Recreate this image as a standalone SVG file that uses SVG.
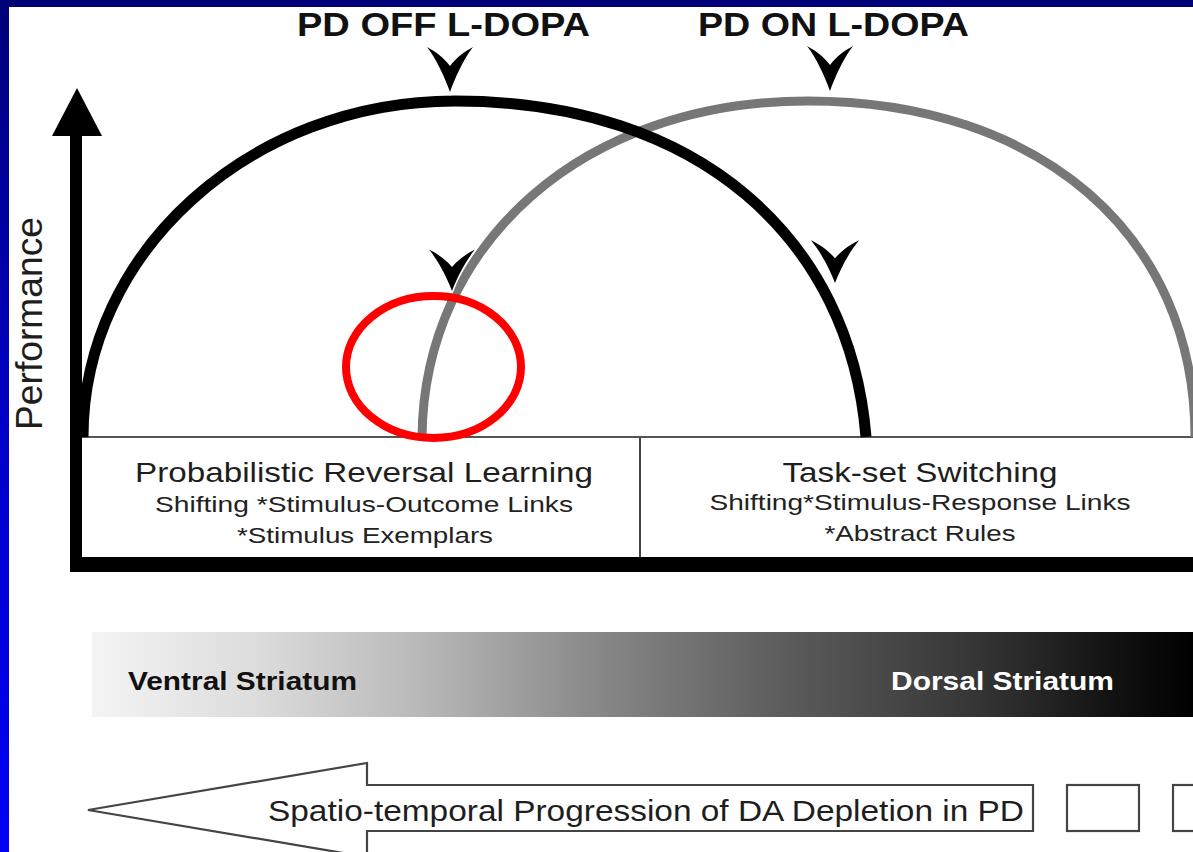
<svg xmlns="http://www.w3.org/2000/svg" xmlns:xlink="http://www.w3.org/1999/xlink" width="1193" height="852" viewBox="0 0 1193 852">
  <defs>
    <linearGradient id="frame" x1="0" y1="0" x2="0" y2="1">
      <stop offset="0" stop-color="#000078"/>
      <stop offset="0.5" stop-color="#0000c8"/>
      <stop offset="1" stop-color="#0000f5"/>
    </linearGradient>
    <linearGradient id="striatum" x1="0" y1="0" x2="1" y2="0">
      <stop offset="0" stop-color="#f4f4f4"/>
      <stop offset="0.15" stop-color="#dcdcdc"/>
      <stop offset="0.3" stop-color="#b8b8b8"/>
      <stop offset="0.47" stop-color="#858585"/>
      <stop offset="0.62" stop-color="#5e5e5e"/>
      <stop offset="0.8" stop-color="#363636"/>
      <stop offset="0.92" stop-color="#141414"/>
      <stop offset="1" stop-color="#000"/>
    </linearGradient>
    <path id="ah" d="M0,0 C-5,-14 -13,-32 -23,-45 C-14,-40 -7,-35 0,-26 C7,-35 14,-40 23,-45 C13,-32 5,-14 0,0 Z"/>
    <style>
      text { font-family: "Liberation Sans", Arial, sans-serif; }
      .title { font-size: 33px; font-weight: bold; fill: #111; }
      .head { font-size: 28px; fill: #1e1e1e; }
      .sub { font-size: 22px; fill: #222; }
      .band { font-size: 25px; font-weight: bold; }
      .arc { fill: none; stroke-linecap: butt; }
      .tip { fill: #000; stroke: #fff; stroke-width: 3; paint-order: stroke; }
      .thin { fill: #fff; stroke: #444; stroke-width: 2.2; }
    </style>
  </defs>

  <rect x="0" y="0" width="1193" height="852" fill="url(#frame)"/>
  <rect x="9" y="7" width="1184" height="845" fill="#fff"/>

  <g id="performance-axis">
    <rect x="70" y="134" width="12" height="438" fill="#000"/>
    <polygon points="77,88 102,136 52,136" fill="#000"/>
    <text transform="translate(42,430) rotate(-90)" font-size="36" fill="#1e1e1e" textLength="213" lengthAdjust="spacingAndGlyphs">Performance</text>
  </g>

  <g id="task-boxes">
    <line x1="82" y1="437" x2="1193" y2="437" stroke="#555" stroke-width="2"/>
    <line x1="640" y1="437" x2="640" y2="558" stroke="#444" stroke-width="2"/>
    <rect x="70" y="557" width="1123" height="15" fill="#000"/>
  </g>

  <g id="box-reversal">
    <text class="head" x="364" y="482" text-anchor="middle" textLength="458" lengthAdjust="spacingAndGlyphs">Probabilistic Reversal Learning</text>
    <text class="sub" x="364" y="512" text-anchor="middle" textLength="418" lengthAdjust="spacingAndGlyphs">Shifting *Stimulus-Outcome Links</text>
    <text class="sub" x="365" y="543" text-anchor="middle" textLength="256" lengthAdjust="spacingAndGlyphs">*Stimulus Exemplars</text>
  </g>

  <g id="box-switching">
    <text class="head" x="920" y="482" text-anchor="middle" textLength="275" lengthAdjust="spacingAndGlyphs">Task-set Switching</text>
    <text class="sub" x="920" y="510" text-anchor="middle" textLength="421" lengthAdjust="spacingAndGlyphs">Shifting*Stimulus-Response Links</text>
    <text class="sub" x="920" y="541" text-anchor="middle" textLength="191" lengthAdjust="spacingAndGlyphs">*Abstract Rules</text>
  </g>

  <g id="connectors">
    <path id="curve-on" class="arc" stroke="#777" stroke-width="9" d="M422,437 C424,242 584,101 808,101 C1040,101 1195,235 1195,437"/>
    <path id="curve-off" class="arc" stroke="#000" stroke-width="11" d="M83,437 C83,252 250,101 455,101 C700,101 850,240 866,437"/>
  </g>

  <g id="label-off">
    <text class="title" x="297" y="36" textLength="293" lengthAdjust="spacingAndGlyphs">PD OFF L-DOPA</text>
    <use xlink:href="#ah" href="#ah" class="tip" transform="translate(450,92)"/>
  </g>

  <g id="label-on">
    <text class="title" x="698" y="36" textLength="271" lengthAdjust="spacingAndGlyphs">PD ON L-DOPA</text>
    <use xlink:href="#ah" href="#ah" class="tip" transform="translate(830,91)"/>
  </g>

  <g id="marker-reversal">
    <use xlink:href="#ah" href="#ah" class="tip" transform="translate(452,291) scale(1,0.92)"/>
  </g>

  <g id="marker-switching">
    <use xlink:href="#ah" href="#ah" class="tip" transform="translate(835,283) scale(1.05,0.95)"/>
  </g>

  <g id="highlight">
    <ellipse cx="433.5" cy="367" rx="87.5" ry="71" fill="none" stroke="#ff0000" stroke-width="8"/>
  </g>

  <g id="striatum-band">
    <rect x="92" y="632" width="1101" height="85" fill="url(#striatum)"/>
    <text class="band" x="128" y="690" fill="#111" textLength="229" lengthAdjust="spacingAndGlyphs">Ventral Striatum</text>
    <text class="band" x="891" y="690" fill="#fff" textLength="223" lengthAdjust="spacingAndGlyphs">Dorsal Striatum</text>
  </g>

  <g id="progression-arrow">
    <polygon class="thin" points="88,810 367,763 367,785 1033,785 1033,831 367,831 367,857"/>
    <text x="268" y="821" font-size="29" fill="#1e1e1e" textLength="756" lengthAdjust="spacingAndGlyphs">Spatio-temporal Progression of DA Depletion in PD</text>
  </g>

  <g id="box-small-1">
    <rect class="thin" x="1067" y="785" width="72" height="46"/>
  </g>
  <g id="box-small-2">
    <rect class="thin" x="1173" y="785" width="40" height="46"/>
  </g>
</svg>
